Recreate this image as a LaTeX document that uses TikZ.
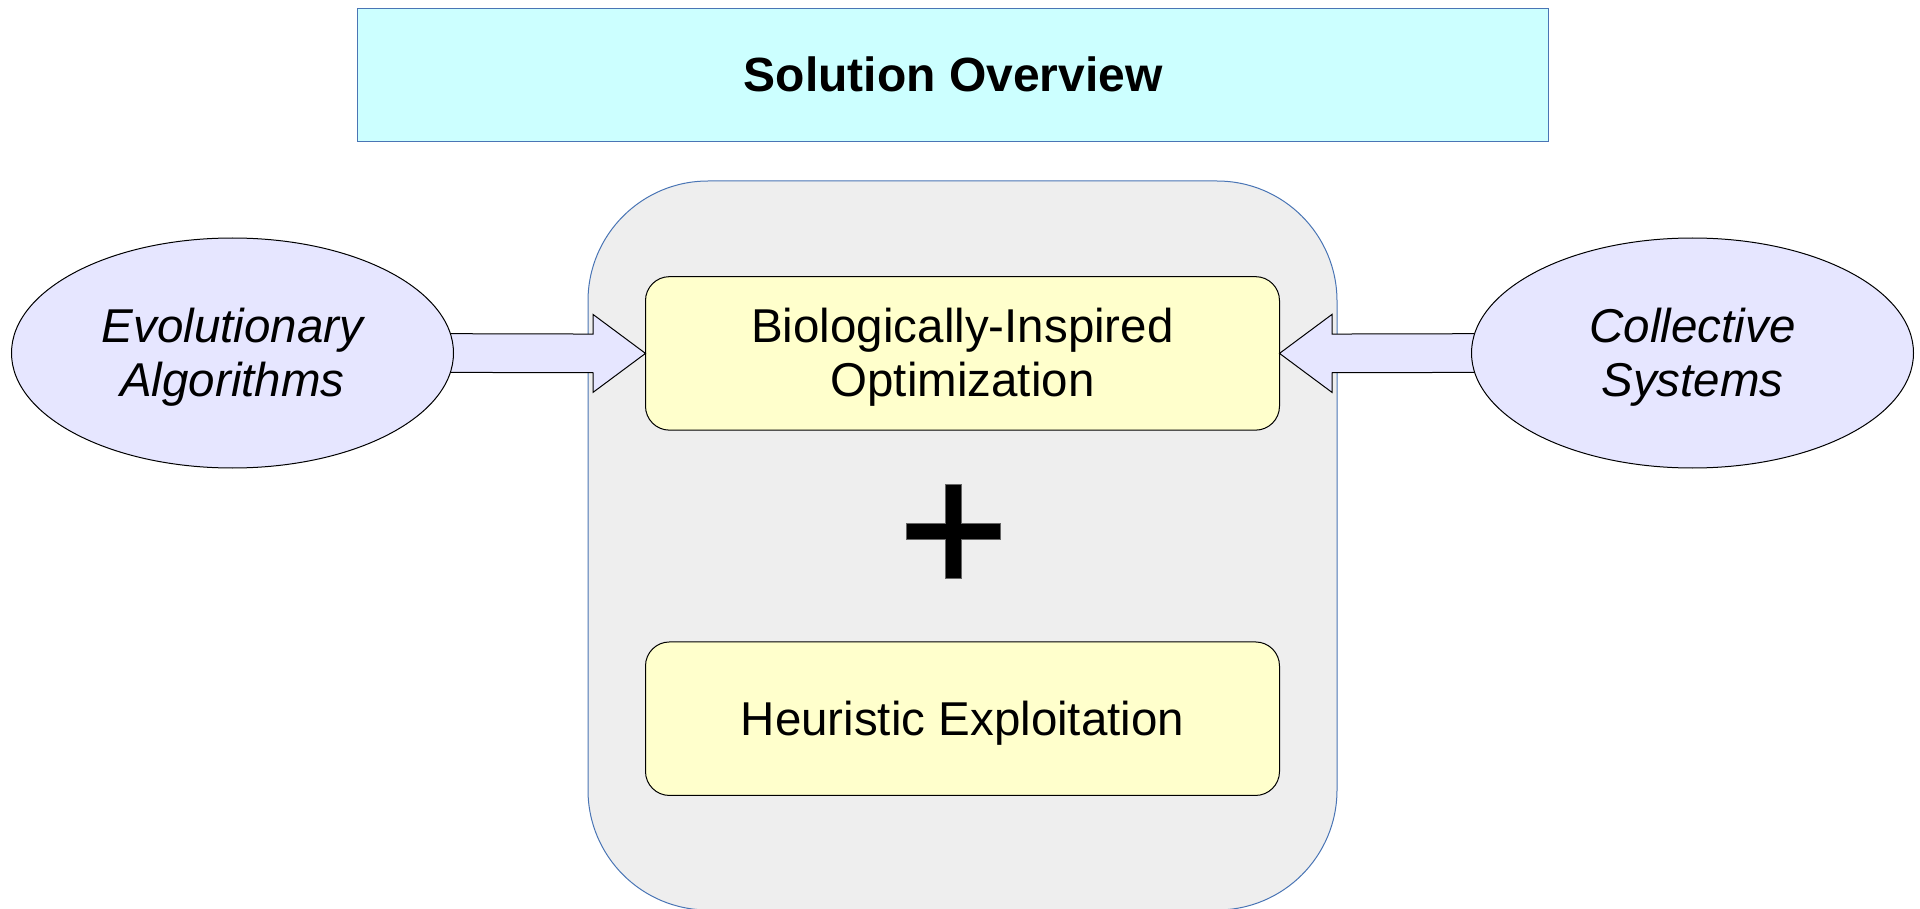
\documentclass[tikz,border=0pt]{standalone}
\usepackage{fontspec}
\setmainfont{Liberation Sans}
\usetikzlibrary{shapes.geometric,calc}
\definecolor{titlefill}{HTML}{CCFFFF}
\definecolor{frameblue}{HTML}{4A75B5}
\definecolor{panelgrey}{HTML}{EEEEEE}
\definecolor{boxyellow}{HTML}{FFFFCC}
\definecolor{lavender}{HTML}{E6E6FF}
% strut with the font's ascent and descent, so lines centre like the drawing program does
\newcommand\lnstrut{\rule[-0.212em]{0pt}{1.117em}}

\begin{document}
\begin{tikzpicture}[x=1pt,y=-1pt,
  every node/.style={inner sep=0pt, outer sep=0pt},
  txt/.style={font=\fontsize{47.5}{54}\selectfont, align=center},
  titlebox/.style={draw=frameblue, fill=titlefill, line width=1pt,
    minimum width=1191pt, minimum height=133pt,
    font=\fontsize{48}{54}\selectfont\bfseries},
  panel/.style={draw=frameblue, fill=panelgrey, line width=1pt,
    rounded corners=120pt, minimum width=749pt, minimum height=729pt},
  stage/.style={txt, draw=black, fill=boxyellow, line width=1pt,
    rounded corners=24pt, minimum width=634pt, minimum height=153.5pt},
  source/.style={txt, ellipse, draw=black, fill=lavender, line width=1pt,
    minimum width=442pt, minimum height=230pt,
    font=\fontsize{47.5}{54}\selectfont\itshape},
  blockarrow/.style={draw=black, fill=lavender, line width=1pt, line join=miter},
  crossmark/.style={fill=black, draw=black!60, line width=1pt},
]
\useasboundingbox (0,0) rectangle (1920,909);

% heading
\node[titlebox] (title) at (953.3,75.3) {\lnstrut Solution Overview};

% grey panel holding the two stages
\node[panel] (panel) at (962.5,545.5) {};
\node[stage] (bio) at (962.5,353.4) {\lnstrut Biologically-Inspired\\\lnstrut Optimization};
\node[stage] (heur) at (962.5,718.7) {\lnstrut Heuristic Exploitation};

% plus sign between the stages
\coordinate (plus) at (953.5,531.3);
\filldraw[crossmark] ($(plus)+(-8.25,-47.3)$) -- ++(16.5,0) -- ++(0,39.05)
  -- ++(39.05,0) -- ++(0,16.5) -- ++(-39.05,0) -- ++(0,39.05)
  -- ++(-16.5,0) -- ++(0,-39.05) -- ++(-39.05,0) -- ++(0,-16.5)
  -- ++(39.05,0) -- cycle;

% sources feeding the optimisation stage
\coordinate (evoc) at (232.5,353);
\coordinate (colc) at (1692.5,353);

\draw[blockarrow] ($(evoc)+(200,-19.35)$) -- ($(bio.west)+(-52.5,-19.35)$)
  -- ($(bio.west)+(-52.5,-39)$) -- (bio.west) -- ($(bio.west)+(-52.5,39)$)
  -- ($(bio.west)+(-52.5,19.35)$) -- ($(evoc)+(200,19.35)$) -- cycle;
\draw[blockarrow] ($(colc)+(-200,-19.35)$) -- ($(bio.east)+(52.5,-19.35)$)
  -- ($(bio.east)+(52.5,-39)$) -- (bio.east) -- ($(bio.east)+(52.5,39)$)
  -- ($(bio.east)+(52.5,19.35)$) -- ($(colc)+(-200,19.35)$) -- cycle;

\node[source] (evo) at (evoc) {\lnstrut Evolutionary\\\lnstrut Algorithms};
\node[source] (col) at (colc) {\lnstrut Collective\\\lnstrut Systems};
\end{tikzpicture}
\end{document}
